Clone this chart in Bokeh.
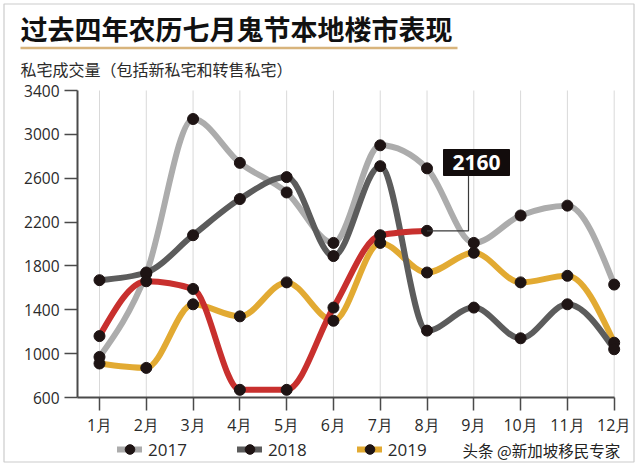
from bokeh.plotting import figure
from bokeh.models import (Range1d, FixedTicker, Label, Legend, LegendItem,
                          ColumnDataSource, Arrow)
from bokeh.embed import file_html
from bokeh.resources import INLINE
from bokeh.core.properties import value

# ---------------- data ----------------
months = [1, 2, 3, 4, 5, 6, 7, 8, 9, 10, 11, 12]
month_labels = ["1月", "2月", "3月", "4月", "5月", "6月", "7月", "8月", "9月", "10月", "11月", "12月"]
y_ticks = [600, 1000, 1400, 1800, 2200, 2600, 3000, 3400]

v2017 = [970, 1730, 3140, 2740, 2470, 2010, 2900, 2690, 2010, 2260, 2350, 1630]
v2018 = [1670, 1740, 2080, 2410, 2610, 1890, 2710, 1210, 1420, 1140, 1450, 1040]
v2019 = [910, 870, 1450, 1340, 1650, 1300, 2010, 1740, 1920, 1650, 1710, 1100]
v2020 = [1160, 1660, 1590, 670, 670, 1420, 2080, 2120]
callout_text = "2160"

title_text = "过去四年农历七月鬼节本地楼市表现"
subtitle_text = "私宅成交量（包括新私宅和转售私宅）"
watermark_text = "头条 @新加坡移民专家"

# ---------------- layout constants (page pixels) ----------------
W, H = 640, 469
AX_LEFT_PX, AX_TOP_PX, AX_BOTTOM_PX = 77, 90, 397
X_AXIS_START = 0.53                    # month value at the y axis
PX_PER_MONTH = 46.79
PX_PER_UNIT = (AX_BOTTOM_PX - AX_TOP_PX) / (y_ticks[-1] - y_ticks[0])

x_start = X_AXIS_START - AX_LEFT_PX / PX_PER_MONTH
x_end = x_start + W / PX_PER_MONTH
y_end = y_ticks[-1] + AX_TOP_PX / PX_PER_UNIT
y_start = y_end - H / PX_PER_UNIT


def fx(px):
    return x_start + px / PX_PER_MONTH


def fy(py):
    return y_end - py / PX_PER_UNIT


def _sign(v):
    return -1.0 if v < 0 else 1.0


def monotone_bezier(xs, ys):
    """Bezier control points of a monotone cubic curve through the points."""
    n = len(xs)
    t = [0.0] * n
    for i in range(1, n - 1):
        h0 = xs[i] - xs[i - 1]
        h1 = xs[i + 1] - xs[i]
        s0 = (ys[i] - ys[i - 1]) / h0
        s1 = (ys[i + 1] - ys[i]) / h1
        p_ = (s0 * h1 + s1 * h0) / (h0 + h1)
        t[i] = (_sign(s0) + _sign(s1)) * min(abs(s0), abs(s1), 0.5 * abs(p_))
    h = xs[1] - xs[0]
    t[0] = (3 * (ys[1] - ys[0]) / h - t[1]) / 2
    h = xs[-1] - xs[-2]
    t[-1] = (3 * (ys[-1] - ys[-2]) / h - t[-2]) / 2
    d = dict(x0=[], y0=[], x1=[], y1=[], cx0=[], cy0=[], cx1=[], cy1=[])
    for i in range(n - 1):
        h = xs[i + 1] - xs[i]
        d["x0"].append(xs[i]); d["y0"].append(ys[i])
        d["x1"].append(xs[i + 1]); d["y1"].append(ys[i + 1])
        d["cx0"].append(xs[i] + h / 3); d["cy0"].append(ys[i] + t[i] * h / 3)
        d["cx1"].append(xs[i + 1] - h / 3); d["cy1"].append(ys[i + 1] - t[i + 1] * h / 3)
    return ColumnDataSource(d)


# ---------------- figure ----------------
p = figure(width=W, height=H,
           x_range=Range1d(x_start, x_end), y_range=Range1d(y_start, y_end),
           output_backend="svg", toolbar_location=None, min_border=0)
p.outline_line_color = None
p.background_fill_color = "white"
p.border_fill_color = "white"
p.grid.visible = False

# outer frame of the picture
p.quad(left=[fx(3.5)], right=[fx(633.5)], top=[fy(3.5)], bottom=[fy(461.5)],
       fill_color=None, line_color="#cccccc", line_width=1.2)

# vertical grid lines at each month
p.segment(x0=months, x1=months, y0=[y_ticks[0]] * len(months),
          y1=[y_ticks[-1]] * len(months), line_color="#d9d9d9", line_width=1)

tick_font = "Open Sans"
p.xaxis.ticker = FixedTicker(ticks=months)
p.xaxis.major_label_overrides = {m: lab for m, lab in zip(months, month_labels)}
p.xaxis.fixed_location = y_ticks[0]
p.xaxis.bounds = (X_AXIS_START, months[-1])
p.yaxis.ticker = FixedTicker(ticks=y_ticks)
p.yaxis.fixed_location = X_AXIS_START
p.yaxis.bounds = (y_ticks[0], y_ticks[-1])
for ax in (p.xaxis, p.yaxis):
    ax.axis_line_color = "#4a4a4a"
    ax.axis_line_width = 2
    ax.major_tick_line_color = "#4a4a4a"
    ax.major_tick_line_width = 1.5
    ax.major_tick_in = 0
    ax.minor_tick_line_color = None
    ax.major_label_text_font = tick_font
    ax.major_label_text_color = "#2a2a2a"
p.xaxis.major_label_text_font_size = "16px"
p.yaxis.major_label_text_font_size = "15.5px"
p.xaxis.major_tick_out = 13
p.xaxis.major_label_standoff = 3
p.yaxis.major_tick_out = 13
p.yaxis.major_label_standoff = 5

series = [
    ("2019", months, v2019, "#e2aa32"),
    ("2017", months, v2017, "#acacac"),
    ("2018", months, v2018, "#5c5c5c"),
    ("2020", months[:len(v2020)], v2020, "#c8302e"),
]

dot_color = "#1e1414"
line_renderers = {}
for name, xs, ys, col in series:
    src = monotone_bezier(xs, ys)
    line_renderers[name] = p.bezier(x0="x0", y0="y0", x1="x1", y1="y1",
                                    cx0="cx0", cy0="cy0", cx1="cx1", cy1="cy1",
                                    source=src, line_color=col, line_width=6,
                                    line_cap="round")

dot_renderers = {}
for name, xs, ys, col in series:
    dot_renderers[name] = p.scatter(x=xs, y=ys, size=11, fill_color=dot_color,
                                    line_color=dot_color)

# callout for 8月 of the red series
cx = fx(468)
p.line(x=[months[len(v2020) - 1], cx, cx], y=[v2020[-1], v2020[-1], fy(175)],
       line_color="#3a3a3a", line_width=1.2)
p.rect(x=[fx(476)], y=[fy(162)], width=66, height=26, width_units="screen",
       height_units="screen", fill_color="#120c0c", line_color="#120c0c")
p.text(x=[fx(476)], y=[fy(162)], text=[callout_text], text_color="white",
       text_font=value("Open Sans"), text_font_style="bold",
       text_font_size="21px", text_align="center", text_baseline="middle")

# legend (the fourth entry of the original is hidden under the watermark)
order = ["2017", "2018", "2019"]
items = [LegendItem(label=n, renderers=[line_renderers[n], dot_renderers[n]]) for n in order]
legend = Legend(items=items, orientation="horizontal", location=(117, 8),
                glyph_width=25, glyph_height=24, label_standoff=6, spacing=50,
                padding=0, margin=0, border_line_color=None,
                background_fill_alpha=0,
                label_text_font=tick_font, label_text_font_size="17px",
                label_text_color="#2a2a2a")
p.add_layout(legend, "center")

# titles
p.add_layout(Label(x=fx(20), y=fy(28), text=title_text, text_font="Noto Sans CJK SC",
                   text_font_style="bold", text_font_size="27px",
                   text_color="#111111", text_baseline="middle"))
p.add_layout(Arrow(start=None, end=None, x_start=fx(20), y_start=fy(47.5),
                   x_end=fx(457), y_end=fy(47.5), line_color="#d8b47c", line_width=2.5))
p.add_layout(Label(x=fx(20), y=fy(68), text=subtitle_text, text_font="Noto Sans CJK SC",
                   text_font_size="16px", text_color="#2a2a2a",
                   text_baseline="middle"))

# watermark
p.add_layout(Label(x=fx(462), y=fy(449), text=watermark_text, text_font="Noto Sans CJK SC",
                   text_font_size="15.5px", text_color="#222222",
                   text_baseline="middle"))

open("out.html", "w").write(file_html(p, INLINE))
